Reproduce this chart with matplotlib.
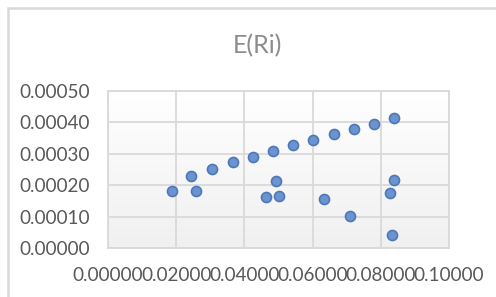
import numpy as np
import matplotlib.pyplot as plt
from matplotlib.patches import Rectangle

plt.rcParams.update({
    "font.family": ["Lato", "DejaVu Sans"],
    "font.size": 11,
})

# expected return E(Ri) vs. risk
risk = [0.0188, 0.0244, 0.0259, 0.0306, 0.0367, 0.0425, 0.0484, 0.0543,
        0.0601, 0.0662, 0.0722, 0.0779, 0.0840,
        0.0492, 0.0464, 0.0500, 0.0632, 0.0709, 0.0827, 0.0840, 0.0833]
ret = [0.000182, 0.000228, 0.000182, 0.000252, 0.000273, 0.000291, 0.000310,
       0.000327, 0.000344, 0.000362, 0.000379, 0.000396, 0.000413,
       0.000213, 0.000161, 0.000166, 0.000155, 0.000103, 0.000176, 0.000217,
       0.000041]
xticks = [0.0, 0.02, 0.04, 0.06, 0.08, 0.10]
yticks = [0.0, 0.0001, 0.0002, 0.0003, 0.0004, 0.0005]

W, H = 496, 297
fig = plt.figure(figsize=(W / 100, H / 100), dpi=100)
fig.patch.set_facecolor("white")

# chart border (only left/top visible in the crop)
fig.patches.append(Rectangle((7.5 / W, -0.1), 1.2, 1 - 8 / H + 0.1,
                             transform=fig.transFigure, fill=False,
                             edgecolor="#d9d9d9", lw=1.8))

ax = fig.add_axes([108 / W, 1 - 248 / H, (449 - 108) / W, (248 - 91) / H])

# soft vertical gradient in the plot area
grad = np.linspace(0, 1, 256).reshape(-1, 1)
ax.imshow(grad, extent=[0, 1, 0, 1], transform=ax.transAxes, aspect="auto",
          cmap=plt.matplotlib.colors.LinearSegmentedColormap.from_list(
              "g", ["#f0f0f0", "#ffffff"]), zorder=0, origin="lower")

ax.scatter(risk, ret, s=52, facecolor="#6b93cf", edgecolor="#4d78b8",
           linewidth=1.2, zorder=3)

ax.set_xlim(0, 0.10)
ax.set_ylim(0, 0.0005)
ax.set_xticks(xticks)
ax.set_yticks(yticks)
ax.set_xticklabels([f"{v:.5f}" for v in xticks])
ax.set_yticklabels([f"{v:.5f}" for v in yticks])
ax.grid(True, color="#d9d9d9", lw=1.3, zorder=1)
ax.set_axisbelow(True)
for s in ax.spines.values():
    s.set_color("#d9d9d9")
    s.set_linewidth(1.3)
ax.tick_params(length=0, labelsize=13.6, colors="#595959")
ax.tick_params(axis="y", pad=13)
ax.tick_params(axis="x", pad=14)

fig.text(257 / W, 1 - 46 / H, "E(Ri)", ha="center", va="center",
         fontsize=18, color="#8c8c8c")

fig.savefig("out.png", dpi=100)
